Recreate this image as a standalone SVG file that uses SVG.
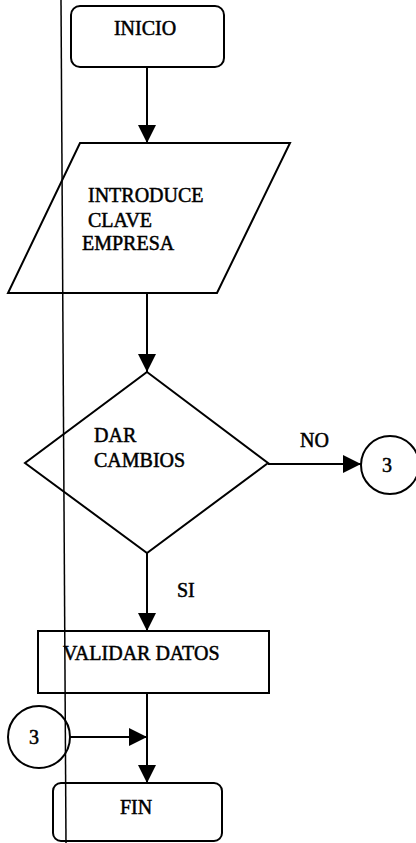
<svg xmlns="http://www.w3.org/2000/svg" width="416" height="843" viewBox="0 0 416 843">
<style>
.s{fill:#fff;stroke:#000;stroke-width:2}
.t{font-family:"Liberation Serif","Times New Roman",serif;font-size:20px;fill:#000;stroke:#000;stroke-width:0.5}
.c{fill:none;stroke:#000;stroke-width:2}
.v{stroke:#000;stroke-width:1.5}
</style>
<defs>
<marker id="a" markerUnits="userSpaceOnUse" markerWidth="18" markerHeight="18" viewBox="0 0 16 16" refX="16" refY="8" orient="auto">
<path d="M0,0 L16,8 L0,16 Z" fill="#000"/>
</marker>
</defs>
<rect width="416" height="843" fill="#fff"/>
<g id="connectors">
<line class="c" x1="147" y1="67" x2="147" y2="143" marker-end="url(#a)"/>
<line class="c" x1="147" y1="293" x2="147" y2="372" marker-end="url(#a)"/>
<line class="c" x1="268" y1="464" x2="361" y2="464" marker-end="url(#a)"/>
<line class="c" x1="147" y1="553" x2="147" y2="631" marker-end="url(#a)"/>
<line class="c" x1="147" y1="693" x2="147" y2="783" marker-end="url(#a)"/>
<line class="c" x1="70" y1="737" x2="147" y2="737" marker-end="url(#a)"/>
<text class="t" x="300" y="447">NO</text>
<text class="t" x="177" y="597">SI</text>
</g>
<g id="inicio">
<rect class="s" x="71" y="6" width="153" height="61" rx="9"/>
<text class="t" x="145" y="35" text-anchor="middle">INICIO</text>
</g>
<g id="introduce">
<polygon class="s" points="80,143 290,143 217,293 8,293"/>
<text class="t" x="88" y="202">INTRODUCE</text>
<text class="t" x="88" y="227">CLAVE</text>
<text class="t" x="82" y="250">EMPRESA</text>
</g>
<g id="decision">
<polygon class="s" points="147,372 268,463 147,553 25,463"/>
<text class="t" x="94" y="442">DAR</text>
<text class="t" x="94" y="467">CAMBIOS</text>
</g>
<g id="conector-3-der">
<circle class="s" cx="390" cy="465" r="29"/>
<text class="t" x="387" y="472" text-anchor="middle">3</text>
</g>
<g id="validar">
<rect class="s" x="38" y="631" width="231" height="62"/>
<text class="t" x="63" y="660">VALIDAR DATOS</text>
</g>
<g id="conector-3-izq">
<circle class="s" cx="39" cy="737" r="31"/>
<text class="t" x="34" y="744" text-anchor="middle">3</text>
</g>
<g id="fin">
<rect class="s" x="53" y="783" width="169" height="58" rx="8"/>
<text class="t" x="136" y="814" text-anchor="middle">FIN</text>
</g>
<line class="v" x1="61" y1="0" x2="66" y2="843"/>
</svg>
